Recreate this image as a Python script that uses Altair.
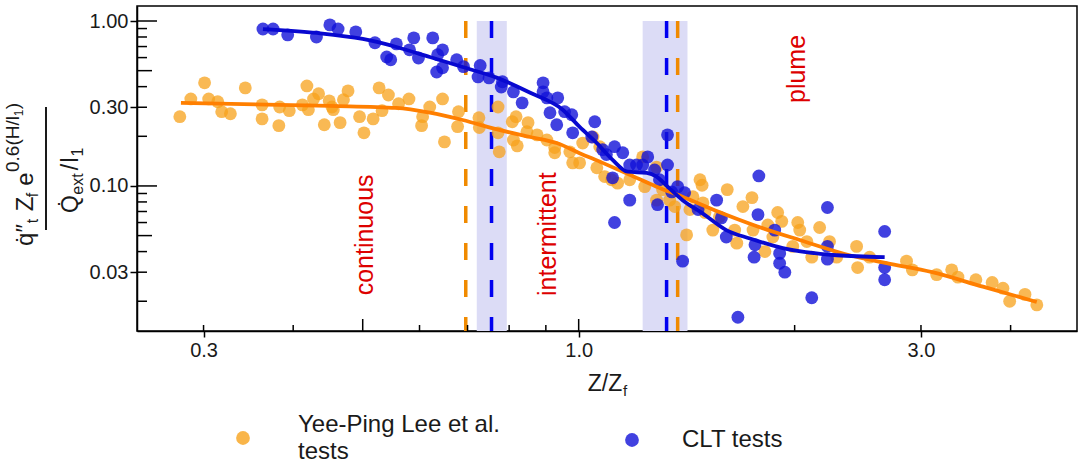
import altair as alt
import pandas as pd

FONT = "Liberation Sans"

# ---------------- data ----------------
lee_x = [0.278, 0.288, 0.301, 0.305, 0.314, 0.318, 0.327, 0.343, 0.362, 0.362, 0.382, 0.383, 0.395,
         0.412, 0.418, 0.420, 0.427, 0.434, 0.442, 0.449, 0.453, 0.455, 0.465, 0.470, 0.477, 0.495,
         0.502, 0.517, 0.527, 0.532, 0.543, 0.561, 0.580, 0.604, 0.606, 0.620, 0.646, 0.650, 0.680,
         0.678, 0.726, 0.727, 0.772, 0.772, 0.775, 0.808, 0.818, 0.821, 0.811, 0.850, 0.847, 0.875,
         0.903, 0.926, 0.926, 0.972, 0.981, 1.003, 1.013, 1.047, 1.060, 1.070, 1.087, 1.111, 1.133,
         1.178, 1.228, 1.236, 1.284, 1.284, 1.309, 1.339, 1.361, 1.414, 1.429, 1.476, 1.486, 1.443,
         1.490, 1.538, 1.571, 1.611, 1.500, 1.650, 1.661, 1.694, 1.744, 1.750, 1.818, 1.835, 1.865,
         1.894, 1.919, 1.988, 2.020, 2.033, 2.080, 2.113, 2.167, 2.237, 2.289, 2.440, 2.448, 2.544,
         2.864, 2.918, 3.155, 3.311, 3.378, 3.578, 3.770, 3.903, 3.988, 4.189, 4.351]
lee_y = [0.263, 0.337, 0.422, 0.337, 0.324, 0.282, 0.274, 0.393, 0.310, 0.255, 0.232, 0.301, 0.286,
         0.310, 0.404, 0.290, 0.337, 0.362, 0.235, 0.328, 0.301, 0.290, 0.242, 0.333, 0.377, 0.263,
         0.210, 0.255, 0.393, 0.286, 0.356, 0.315, 0.337, 0.232, 0.263, 0.301, 0.337, 0.185, 0.282,
         0.229, 0.259, 0.226, 0.301, 0.210, 0.161, 0.245, 0.263, 0.175, 0.190, 0.242, 0.213, 0.204,
         0.190, 0.171, 0.159, 0.161, 0.138, 0.138, 0.182, 0.198, 0.129, 0.173, 0.114, 0.109, 0.104,
         0.109, 0.150, 0.099, 0.130, 0.082, 0.095, 0.082, 0.075, 0.0505, 0.072, 0.109, 0.101, 0.086,
         0.079, 0.054, 0.065, 0.095, 0.069, 0.054, 0.045, 0.075, 0.085, 0.054, 0.040, 0.058, 0.049,
         0.069, 0.061, 0.043, 0.060, 0.054, 0.046, 0.037, 0.056, 0.046, 0.037, 0.043, 0.032, 0.037,
         0.035, 0.031, 0.029, 0.031, 0.028, 0.027, 0.026, 0.024, 0.020, 0.022, 0.019]

clt_x = [0.363, 0.375, 0.393, 0.431, 0.450, 0.462, 0.489, 0.520, 0.540, 0.547, 0.557, 0.581, 0.589,
         0.598, 0.626, 0.636, 0.646, 0.634, 0.646, 0.691, 0.729, 0.724, 0.676, 0.750, 0.783, 0.780,
         0.811, 0.834, 0.892, 0.892, 0.903, 0.935, 0.912, 0.932, 0.956, 0.978, 0.981, 1.053, 1.043,
         1.080, 1.093, 1.122, 1.152, 1.115, 1.178, 1.204, 1.228, 1.248, 1.276, 1.178, 1.122, 1.330,
         1.330, 1.296, 1.288, 1.374, 1.396, 1.405, 1.467, 1.557, 1.581, 1.606, 1.348, 1.667, 1.783,
         1.778, 1.761, 1.756, 1.876, 1.906, 1.906, 1.938, 2.113, 2.222, 2.222, 2.222, 2.670, 2.670,
         2.670]
clt_y = [0.894, 0.894, 0.824, 0.800, 0.947, 0.894, 0.859, 0.738, 0.605, 0.582, 0.727, 0.669, 0.790,
         0.597, 0.790, 0.624, 0.669, 0.491, 0.521, 0.529, 0.537, 0.458, 0.582, 0.452, 0.428, 0.398,
         0.372, 0.319, 0.422, 0.372, 0.342, 0.342, 0.278, 0.235, 0.282, 0.270, 0.210, 0.245, 0.198,
         0.166, 0.155, 0.173, 0.159, 0.112, 0.134, 0.134, 0.134, 0.150, 0.125, 0.082, 0.060, 0.204,
         0.134, 0.109, 0.077, 0.099, 0.035, 0.091, 0.072, 0.082, 0.064, 0.049, 0.092, 0.016, 0.115,
         0.067, 0.044, 0.037, 0.054, 0.039, 0.034, 0.030, 0.021, 0.074, 0.043, 0.036, 0.053, 0.032,
         0.027]

lee_fit_x = [0.279, 0.450, 0.557, 0.620, 0.689, 0.770, 0.856, 0.932, 1.003, 1.080, 1.178, 1.284,
             1.395, 1.538, 1.772, 2.033, 2.385, 2.687, 3.110, 3.660, 4.350]
lee_fit_y = [0.319, 0.306, 0.297, 0.278, 0.251, 0.220, 0.198, 0.182, 0.158, 0.138, 0.117, 0.099,
             0.086, 0.072, 0.057, 0.047, 0.038, 0.034, 0.030, 0.0245, 0.0198]

clt_fit_x = [0.363, 0.432, 0.500, 0.557, 0.620, 0.689, 0.770, 0.856, 0.950, 1.003, 1.060, 1.115,
             1.170, 1.244, 1.284, 1.330, 1.396, 1.490, 1.606, 1.733, 1.925, 2.290, 2.670]
clt_fit_y = [0.894, 0.846, 0.778, 0.696, 0.605, 0.526, 0.452, 0.367, 0.290, 0.228, 0.182, 0.144,
             0.122, 0.120, 0.114, 0.099, 0.082, 0.068, 0.054, 0.048, 0.042, 0.038, 0.037]

band_lo = [0.721, 1.228]
band_hi = [0.794, 1.418]
band_top = [1.0, 1.0]
lee_transition = [0.696, 1.374]
clt_transition = [0.756, 1.326]

regime_labels = ["continuous", "intermittent", "plume"]
regime_x = [0.504, 0.905, 2.018]
regime_y = [0.0505, 0.051, 0.512]

x_tick_values = [0.3, 1.0, 3.0]
y_tick_values = [0.03, 0.1, 0.3, 1.0]
x_inner_long = [0.5, 1.0]
x_inner_short = [0.3, 0.4, 0.6, 0.7, 0.8, 0.9, 2.0, 3.0, 4.0]
y_inner_long = [0.1, 1.0]
y_inner_mid = [0.05, 0.5]
y_inner_short = [0.9, 0.8, 0.7, 0.6, 0.4, 0.3, 0.2, 0.09, 0.08, 0.07, 0.06, 0.04, 0.03, 0.02]

X_DOMAIN = [0.2423, 4.95]
Y_DOMAIN = [0.0132, 1.233]

# ---------------- chart ----------------
W, H = 940, 325
xs = alt.Scale(type="log", domain=X_DOMAIN, nice=False)
ys = alt.Scale(type="log", domain=Y_DOMAIN, nice=False)

x_axis = alt.Axis(values=x_tick_values, format=".1f", title=None, tickSize=6, labelPadding=3,
                  grid=False, labelFontSize=20, labelFont=FONT, labelColor="#1a1a1a",
                  domainColor="black", tickColor="black", domainWidth=1.5, tickWidth=1.5)
y_axis = alt.Axis(values=y_tick_values, format=".2f", title=None, tickSize=7, labelPadding=2,
                  grid=False, labelFontSize=20, labelFont=FONT, labelColor="#1a1a1a",
                  domainColor="black", tickColor="black", domainWidth=1.5, tickWidth=1.5)


def X(f):
    return alt.X(f, type="quantitative", scale=xs, axis=x_axis)


def Y(f):
    return alt.Y(f, type="quantitative", scale=ys, axis=y_axis)


lee = pd.DataFrame({"x": lee_x, "y": lee_y})
clt = pd.DataFrame({"x": clt_x, "y": clt_y})
lee_fit = pd.DataFrame({"x": lee_fit_x, "y": lee_fit_y})
clt_fit = pd.DataFrame({"x": clt_fit_x, "y": clt_fit_y})
bands = pd.DataFrame({"lo": band_lo, "hi": band_hi, "top": band_top})
lee_tr = pd.DataFrame({"x": lee_transition, "top": band_top})
clt_tr = pd.DataFrame({"x": clt_transition, "top": band_top})
regimes = pd.DataFrame({"x": regime_x, "y": regime_y, "label": regime_labels})
dummy = pd.DataFrame({"a": [0]})

band_layer = alt.Chart(bands).mark_rect(color="#dcdcf6").encode(
    x=X("lo"), x2="hi", y=Y("top"), y2=alt.value(H))

lee_dash = alt.Chart(lee_tr).mark_rule(color="#f08a00", strokeWidth=3.5, strokeDash=[17, 20]).encode(
    x=X("x"), y=Y("top"), y2=alt.value(H))
clt_dash = alt.Chart(clt_tr).mark_rule(color="#0000f0", strokeWidth=3.5, strokeDash=[17, 20]).encode(
    x=X("x"), y=Y("top"), y2=alt.value(H))

lee_pts = alt.Chart(lee).mark_circle(size=165, color="#f7a21b", opacity=0.75).encode(x=X("x"), y=Y("y"))
clt_pts = alt.Chart(clt).mark_circle(size=165, color="#1212d8", opacity=0.8).encode(x=X("x"), y=Y("y"))

lee_line = alt.Chart(lee_fit).mark_line(color="#ff7f00", strokeWidth=3.8, interpolate="monotone").encode(
    x=X("x"), y=Y("y"))
clt_line = alt.Chart(clt_fit).mark_line(color="#0808d0", strokeWidth=3.8, interpolate="monotone").encode(
    x=X("x"), y=Y("y"))

regime_text = alt.Chart(regimes).mark_text(angle=270, fontSize=25, font=FONT, color="#dd0000",
                                           align="center", baseline="middle").encode(
    x=X("x"), y=Y("y"), text="label:N")


def inner_ticks_y(vals, length):
    return alt.Chart(pd.DataFrame({"v": vals})).mark_rule(color="black", strokeWidth=1.5).encode(
        y=Y("v"), x=alt.value(0), x2=alt.value(length))


def inner_ticks_x(vals, length):
    return alt.Chart(pd.DataFrame({"v": vals})).mark_rule(color="black", strokeWidth=1.5).encode(
        x=X("v"), y=alt.value(H), y2=alt.value(H - length))


def txt(s, px, py, size, angle=0, align="center", baseline="middle", color="#1a1a1a"):
    return alt.Chart(dummy).mark_text(text=s, fontSize=size, font=FONT, angle=angle, align=align,
                                      baseline=baseline, color=color).encode(
        x=alt.value(px), y=alt.value(py))


def dot(px, py, color, opacity):
    return alt.Chart(dummy).mark_circle(size=190, color=color, opacity=opacity).encode(
        x=alt.value(px), y=alt.value(py))


# y-axis title (fraction), rotated
ylab = [
    txt("q\u0307\u2033", -104, 229, 24, angle=270, baseline="alphabetic"),
    txt("t", -99, 215, 16, angle=270, baseline="alphabetic"),
    txt("Z", -104, 198, 24, angle=270, baseline="alphabetic"),
    txt("f", -99, 189, 16, angle=270, baseline="alphabetic"),
    txt("e", -104, 173, 24, angle=270, baseline="alphabetic"),
    txt("0.6(H/l", -118, 138, 19, angle=270, baseline="alphabetic"),
    txt("1", -114, 107, 12, angle=270, baseline="alphabetic"),
    txt(")", -118, 100, 19, angle=270, baseline="alphabetic"),
    txt("Q\u0307", -59, 198, 23, angle=270, baseline="alphabetic"),
    txt("ext", -54, 178, 16, angle=270, baseline="alphabetic"),
    txt("/", -59, 161, 23, angle=270, baseline="alphabetic"),
    txt("l", -59, 154, 23, angle=270, baseline="alphabetic"),
    txt("1", -54, 146, 16, angle=270, baseline="alphabetic"),
]
frac_bar = alt.Chart(dummy).mark_rule(color="#1a1a1a", strokeWidth=2).encode(
    x=alt.value(-91), y=alt.value(101), y2=alt.value(224))

# x-axis title
xlab = [
    txt("Z/Z", 468, 385, 23, baseline="alphabetic"),
    txt("f", 486, 390, 15, align="left", baseline="alphabetic"),
]

# legend
legend = [
    dot(106, 432, "#f7a21b", 0.8),
    txt("Yee-Ping Lee et al.", 161, 419, 24, align="left"),
    txt("tests", 161, 446, 24, align="left"),
    dot(495, 434, "#1212d8", 0.8),
    txt("CLT tests", 545, 434, 24, align="left"),
]

layers = [band_layer, lee_dash, clt_dash,
          inner_ticks_y(y_inner_long, 20), inner_ticks_y(y_inner_mid, 15), inner_ticks_y(y_inner_short, 10),
          inner_ticks_x(x_inner_long, 12), inner_ticks_x(x_inner_short, 6),
          lee_pts, clt_pts, lee_line, clt_line, regime_text, frac_bar] + ylab + xlab + legend

chart = alt.layer(*layers).properties(
    width=W, height=H,
    padding={"left": 137, "top": 6, "right": 1, "bottom": 139},
    autosize=alt.AutoSizeParams(type="none"),
).configure_view(stroke="black", strokeWidth=1.5)

chart.save("out.html", embed_options={"renderer": "svg", "actions": False})
